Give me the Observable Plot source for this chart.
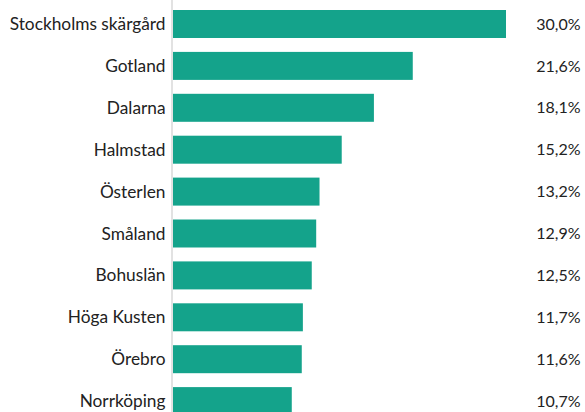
<!DOCTYPE html>
<html><head><meta charset="utf-8">
<script src="https://cdn.jsdelivr.net/npm/d3@7"></script>
<script src="https://cdn.jsdelivr.net/npm/@observablehq/plot@0.6"></script>
<style>html,body{margin:0;padding:0;background:#fff;overflow:hidden}</style>
</head><body><div id="chart"></div>
<script>
const regions = ["Stockholms skärgård","Gotland","Dalarna","Halmstad","Österlen","Småland","Bohuslän","Höga Kusten","Örebro","Norrköping"];
const shares = [30.0,21.6,18.1,15.2,13.2,12.9,12.5,11.7,11.6,10.7];
const data = regions.map((r,i)=>({region:r, value:shares[i]}));
const fmt = v => v.toFixed(1).replace(".", ",") + "%";
const font = "Lato, 'Open Sans', sans-serif";
const chart = Plot.plot({
  width: 585, height: 412,
  marginLeft: 0, marginRight: 0, marginTop: 0, marginBottom: 0,
  style: {fontFamily: font, background: "#fff", overflow: "hidden"},
  x: {domain: [0, 30], range: [173, 506], axis: null},
  y: {domain: regions, range: [10, 415.1], paddingInner: 0.332, paddingOuter: 0, align: 0, round: false, axis: null},
  marks: [
    Plot.barX(data, {x: "value", y: "region", fill: "#14a38b"}),
    Plot.ruleX([0], {dx: -1.5, stroke: "#e2e2e2", strokeWidth: 2}),
    Plot.text(data, {x: 0, y: "region", text: "region", textAnchor: "end", dx: -8, fontSize: 17.3, fill: "#222"}),
    Plot.text(data, {x: 30, y: "region", text: d => fmt(d.value), textAnchor: "end", dx: 74, fontSize: 16, fill: "#222"})
  ]
});
document.getElementById("chart").appendChild(chart);
</script></body></html>
